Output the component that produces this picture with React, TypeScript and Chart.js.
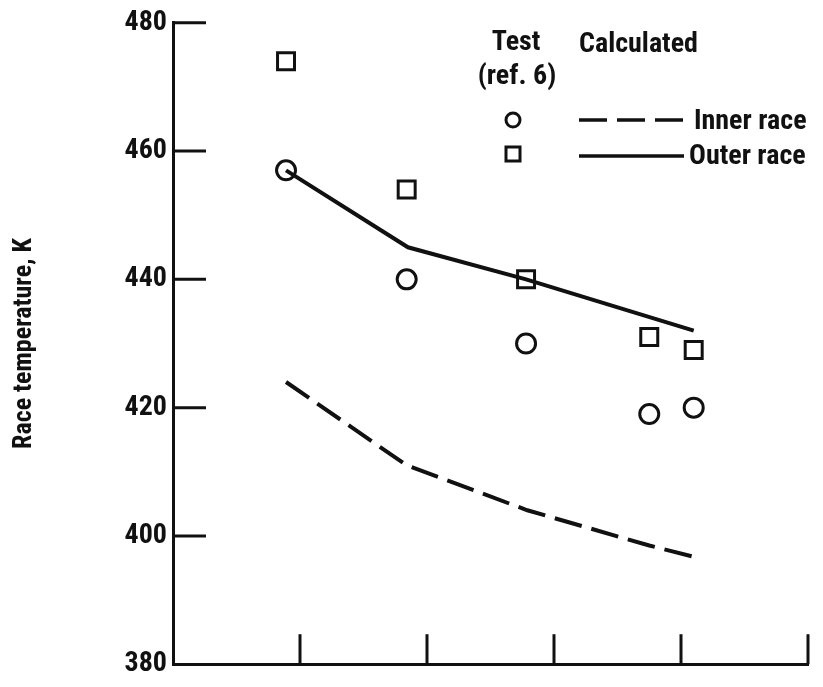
import React, { useEffect, useRef } from 'react';
import { Chart, registerables } from 'chart.js';

Chart.register(...registerables);

// ---- data ----
const testX = [0.89, 1.84, 2.78, 3.75, 4.1];
const outerRaceTest = [474, 454, 440, 431, 429];
const innerRaceTest = [457, 440, 430, 419, 420];

const outerCalcX = [0.89, 1.85, 2.78, 4.1];
const outerRaceCalc = [457, 445, 440, 432];
const innerCalcX = [0.89, 1.84, 2.79, 3.75, 4.15];
const innerRaceCalc = [424, 411, 404, 398.5, 396.5];

const yTickValues = [380, 400, 420, 440, 460, 480];
const xTickValues = [0, 1, 2, 3, 4, 5];

const yTitle = 'Race temperature, K';
const headTest = 'Test';
const headRef = '(ref. 6)';
const headCalc = 'Calculated';
const seriesNames = ['Inner race', 'Outer race'];

const INK = '#111111';
const FAMILY = "'Liberation Sans Narrow', 'Roboto Condensed', 'DejaVu Sans Condensed', 'Liberation Sans', sans-serif";

const pts = (xs: number[], ys: number[]) => xs.map((x, i) => ({ x, y: ys[i] }));

const overlayPlugin = {
  id: 'overlay',
  afterDraw(chart: any) {
    const { ctx, chartArea, scales } = chart;
    const xs = scales.x;
    const ys = scales.y;
    ctx.save();
    ctx.strokeStyle = INK;
    ctx.fillStyle = INK;
    ctx.lineWidth = 3;
    ctx.lineCap = 'butt';
    // inward tick marks
    ys.ticks.forEach((t: any) => {
      if (t.value === ys.min) return;
      const py = ys.getPixelForValue(t.value);
      ctx.beginPath();
      ctx.moveTo(chartArea.left, py);
      ctx.lineTo(chartArea.left + 33, py);
      ctx.stroke();
    });
    xs.ticks.forEach((t: any) => {
      if (t.value === xs.min) return;
      const px = xs.getPixelForValue(t.value);
      ctx.beginPath();
      ctx.moveTo(px, chartArea.bottom);
      ctx.lineTo(px, chartArea.bottom - 30);
      ctx.stroke();
    });

    // key
    ctx.font = `bold 28px ${FAMILY}`;
    ctx.textBaseline = 'middle';
    ctx.textAlign = 'center';
    ctx.fillText(headTest, 516, 43);
    ctx.fillText(headRef, 517, 77);
    ctx.textAlign = 'left';
    ctx.fillText(headCalc, 579, 45);

    ctx.lineWidth = 3;
    ctx.beginPath();
    ctx.arc(513, 120, 7, 0, Math.PI * 2);
    ctx.stroke();
    ctx.strokeRect(513 - 7, 154 - 7, 14, 14);

    ctx.lineWidth = 3.5;
    ctx.setLineDash([28, 10]);
    ctx.beginPath();
    ctx.moveTo(579, 120);
    ctx.lineTo(684, 120);
    ctx.stroke();
    ctx.setLineDash([]);
    ctx.beginPath();
    ctx.moveTo(579, 156);
    ctx.lineTo(684, 156);
    ctx.stroke();

    ctx.fillText(seriesNames[0], 694, 122);
    ctx.fillText(seriesNames[1], 689, 157);
    ctx.restore();
  },
};

export default function App() {
  const ref = useRef<HTMLCanvasElement | null>(null);

  useEffect(() => {
    document.body.style.margin = '0';
    const canvas = ref.current;
    if (!canvas) return;
    const chart = new Chart(canvas, {
      type: 'scatter',
      data: {
        datasets: [
          {
            label: 'Inner race (calculated)',
            data: pts(innerCalcX, innerRaceCalc),
            showLine: true,
            borderColor: INK,
            borderWidth: 4,
            borderDash: [28, 10],
            pointRadius: 0,
            fill: false,
          },
          {
            label: 'Outer race (calculated)',
            data: pts(outerCalcX, outerRaceCalc),
            showLine: true,
            borderColor: INK,
            borderWidth: 4,
            pointRadius: 0,
            fill: false,
          },
          {
            label: 'Inner race (test)',
            data: pts(testX, innerRaceTest),
            showLine: false,
            pointStyle: 'circle',
            pointRadius: 9.5,
            borderWidth: 3,
            borderColor: INK,
            backgroundColor: 'rgba(0,0,0,0)',
          },
          {
            label: 'Outer race (test)',
            data: pts(testX, outerRaceTest),
            showLine: false,
            pointStyle: 'rect',
            pointRadius: 12,
            borderWidth: 3,
            borderColor: INK,
            backgroundColor: 'rgba(0,0,0,0)',
          },
        ],
      },
      options: {
        responsive: false,
        animation: false,
        devicePixelRatio: 1,
        layout: { padding: { top: 22, right: 4, bottom: 10, left: 0 } },
        plugins: {
          legend: { display: false },
          tooltip: { enabled: false },
        },
        scales: {
          x: {
            type: 'linear',
            min: xTickValues[0],
            max: xTickValues[xTickValues.length - 1],
            afterBuildTicks: (s: any) => {
              s.ticks = xTickValues.map((v) => ({ value: v }));
            },
            ticks: { display: false },
            grid: { display: false, drawTicks: false },
            border: { display: true, width: 3, color: INK },
            afterFit: (s: any) => {
              s.height = 0;
            },
          },
          y: {
            type: 'linear',
            min: yTickValues[0],
            max: yTickValues[yTickValues.length - 1],
            afterBuildTicks: (s: any) => {
              s.ticks = yTickValues.map((v) => ({ value: v }));
            },
            ticks: {
              color: INK,
              padding: 6,
              font: { family: FAMILY, size: 28, weight: 'bold' },
            },
            grid: { display: false, drawTicks: false },
            border: { display: true, width: 3, color: INK },
            title: {
              display: true,
              text: yTitle,
              color: INK,
              padding: { top: 9, bottom: 0 },
              font: { family: FAMILY, size: 26, weight: 'bold' },
            },
            afterFit: (s: any) => {
              s.width = 173;
            },
          },
        },
      },
      plugins: [overlayPlugin],
    } as any);
    return () => chart.destroy();
  }, []);

  return <canvas ref={ref} width={823} height={687} style={{ display: 'block' }} />;
}
